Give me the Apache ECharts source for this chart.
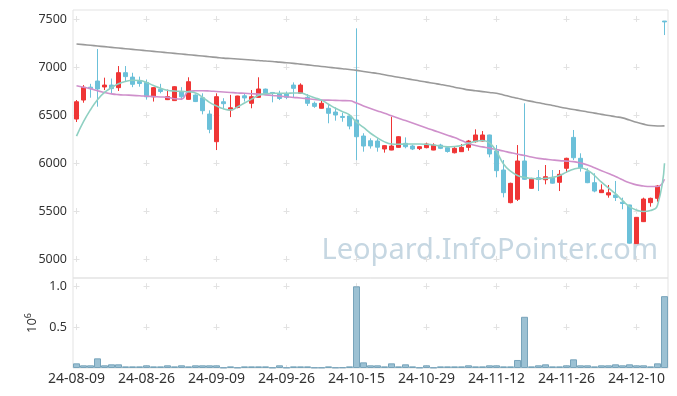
<!DOCTYPE html>
<html>
<head>
<meta charset="utf-8">
<script src="https://cdn.jsdelivr.net/npm/echarts@6/dist/echarts.min.js"></script>
<style>
html,body{margin:0;padding:0;background:#fff;}
#chart{width:677px;height:396px;}
</style>
</head>
<body>
<div id="chart"></div>
<script>
const dates = [
'24-08-09','24-08-12','24-08-13','24-08-14','24-08-16','24-08-19','24-08-20','24-08-21','24-08-22','24-08-23',
'24-08-26','24-08-27','24-08-28','24-08-29','24-08-30','24-09-02','24-09-03','24-09-04','24-09-05','24-09-06',
'24-09-09','24-09-10','24-09-11','24-09-12','24-09-13','24-09-19','24-09-20','24-09-23','24-09-24','24-09-25',
'24-09-26','24-09-27','24-09-30','24-10-02','24-10-04','24-10-07','24-10-08','24-10-10','24-10-11','24-10-14',
'24-10-15','24-10-16','24-10-17','24-10-18','24-10-21','24-10-22','24-10-23','24-10-24','24-10-25','24-10-28',
'24-10-29','24-10-30','24-10-31','24-11-01','24-11-04','24-11-05','24-11-06','24-11-07','24-11-08','24-11-11',
'24-11-12','24-11-13','24-11-14','24-11-15','24-11-18','24-11-19','24-11-20','24-11-21','24-11-22','24-11-25',
'24-11-26','24-11-27','24-11-28','24-11-29','24-12-02','24-12-03','24-12-04','24-12-05','24-12-06','24-12-09',
'24-12-10','24-12-11','24-12-12','24-12-13','24-12-16'];

const opens = [6458,6656,6790,6854,6792,6812,6785,6941,6895,6850,
6840,6690,6768,6660,6650,6745,6663,6708,6680,6510,
6222,6638,6552,6578,6700,6622,6684,6770,6735,6720,
6720,6812,6726,6684,6622,6570,6570,6531,6485,6490,
6448,6281,6232,6229,6146,6135,6163,6205,6177,6150,
6160,6135,6187,6160,6107,6118,6163,6222,6229,6292,
6125,5927,5587,5622,6021,5736,5847,5826,5847,5799,
5945,6267,6049,5910,5795,5691,5667,5667,5592,5563,
5160,5389,5587,5632,7479];
const closes = [6638,6789,6775,6771,6812,6775,6941,6900,6820,6828,
6690,6785,6745,6692,6795,6690,6847,6640,6545,6351,
6691,6618,6575,6698,6678,6691,6771,6720,6725,6672,
6685,6778,6812,6622,6590,6622,6518,6500,6475,6385,
6274,6177,6178,6165,6181,6177,6274,6170,6146,6170,
6198,6187,6153,6120,6153,6163,6229,6292,6292,6094,
5920,5691,5788,6021,5830,5830,5828,5857,5790,5882,
6049,6055,5951,5795,5708,5719,5690,5640,5578,5165,
5434,5625,5632,5760,7470];
const lows = [6427,6628,6680,6587,6760,6726,6750,6847,6790,6795,
6660,6640,6726,6656,6648,6656,6660,6635,6507,6310,
6135,6560,6478,6570,6640,6570,6680,6715,6632,6656,
6665,6684,6722,6594,6575,6568,6414,6441,6430,6351,
6030,6118,6150,6118,6108,6133,6160,6153,6135,6135,
6153,6133,6145,6108,6100,6115,6128,6212,6225,6059,
5851,5642,5580,5604,5825,5733,5708,5778,5785,5708,
5899,6031,5910,5790,5695,5688,5639,5604,5518,5160,
5155,5385,5545,5597,7333];
const highs = [6656,6812,6825,7187,6889,6880,7010,7010,6940,6900,
6870,6790,6825,6765,6800,6790,6893,6715,6726,6549,
6726,6675,6710,6700,6720,6760,6893,6775,6740,6753,
6745,6840,6830,6719,6640,6656,6604,6580,6525,6510,
7403,6310,6257,6257,6187,6483,6280,6267,6190,6175,
6212,6205,6200,6170,6165,6198,6240,6351,6333,6295,
6187,6031,5795,6187,6622,5845,5927,5979,5927,5927,
6055,6344,6101,5945,5893,5778,5771,5813,5639,5565,
5436,5639,5639,5771,7479];
const volumes = [57000,33000,33000,118000,33000,45000,45000,20000,20000,20000,
33000,20000,20000,33000,20000,33000,20000,33000,33000,33000,
33000,6000,20000,6000,20000,20000,20000,20000,6000,33000,
6000,20000,20000,20000,6000,6000,20000,6000,8000,20000,
998000,69000,33000,33000,20000,57000,20000,45000,20000,6000,
33000,6000,20000,20000,20000,20000,33000,20000,20000,33000,
33000,20000,20000,98000,626000,20000,33000,45000,20000,20000,
33000,106000,33000,33000,20000,33000,33000,45000,33000,45000,
33000,33000,20000,57000,878000];
const ma5 = [6280,6430,6555,6660,6735,6785,6825,6850,6862,6860,
6838,6808,6780,6758,6750,6746,6742,6730,6685,6632,
6595,6565,6552,6585,6625,6665,6705,6722,6727,6727,
6726,6730,6730,6705,6680,6655,6612,6570,6535,6500,
6425,6370,6310,6262,6220,6198,6195,6198,6198,6198,
6195,6188,6175,6170,6172,6182,6205,6225,6235,6210,
6120,5990,5915,5870,5850,5840,5835,5840,5850,5870,
5905,5935,5948,5925,5870,5800,5740,5680,5610,5545,
5510,5495,5505,5560,5997];
const ma20 = [6805,6790,6775,6752,6735,6720,6712,6708,6705,6700,
6696,6692,6688,6684,6670,6665,6745,6752,6753,6750,
6745,6740,6735,6730,6726,6722,6718,6710,6703,6697,
6690,6683,6678,6670,6662,6656,6655,6652,6650,6648,
6625,6595,6568,6543,6518,6492,6467,6442,6416,6390,
6364,6340,6315,6290,6265,6235,6205,6182,6168,6155,
6140,6125,6108,6092,6078,6062,6048,6040,6032,6025,
6020,6014,6000,5980,5950,5920,5890,5860,5825,5795,
5772,5760,5755,5755,5830];
const ma60 = [7240,7233,7226,7219,7212,7205,7198,7191,7184,7177,
7170,7163,7156,7149,7142,7135,7128,7121,7114,7107,
7100,7093,7088,7083,7078,7073,7068,7062,7057,7051,
7045,7038,7030,7022,7014,7006,6998,6990,6982,6974,
6965,6954,6943,6932,6919,6906,6893,6880,6868,6855,
6843,6830,6818,6805,6790,6776,6762,6753,6744,6735,
6726,6709,6691,6674,6656,6642,6628,6613,6599,6584,
6570,6557,6545,6532,6520,6507,6495,6482,6470,6447,
6424,6405,6390,6385,6387];

const kData = dates.map((d, i) => [opens[i], closes[i], lows[i], highs[i]]);

const FONT = '"Noto Sans", "DejaVu Sans", sans-serif';
const crossColor = '#e2e2e2';
const RED = '#ef3535';
const BLUE = '#6bc0d9';

const chart = echarts.init(document.getElementById('chart'), null, {renderer: 'canvas'});
chart.setOption({
  animation: false,
  backgroundColor: '#fff',
  graphic: [{
    type: 'text',
    z: 0,
    style: {
      x: 658, y: 251,
      text: 'Leopard.InfoPointer.com',
      font: '29px "Noto Sans", sans-serif',
      fill: '#c6d7e2',
      textAlign: 'right',
      textVerticalAlign: 'middle'
    }
  }],
  grid: [
    {left: 73, top: 10, width: 595, height: 268, show: true, borderColor: '#e3e3e3', borderWidth: 1, backgroundColor: 'transparent'},
    {left: 73, top: 278, width: 595, height: 90, show: true, borderColor: '#e3e3e3', borderWidth: 1, backgroundColor: 'transparent'}
  ],
  xAxis: [
    {
      type: 'category', gridIndex: 0, data: dates, boundaryGap: true,
      axisLine: {show: false}, axisTick: {show: false}, axisLabel: {show: false},
      splitLine: {show: true, interval: 9, alignWithLabel: true,
        lineStyle: {color: crossColor, width: 1, type: [6, 42], dashOffset: 42}}
    },
    {
      type: 'category', gridIndex: 1, data: dates, boundaryGap: true,
      axisLine: {show: false}, axisTick: {show: false},
      axisLabel: {show: true, interval: 9, fontSize: 14, color: '#333', fontFamily: FONT, margin: 4},
      splitLine: {show: true, interval: 9, alignWithLabel: true,
        lineStyle: {color: crossColor, width: 1, type: [6, 34.91], dashOffset: 35.73}}
    }
  ],
  yAxis: [
    {
      type: 'value', gridIndex: 0, min: 4802, max: 7594, scale: true,
      axisLine: {show: false}, axisTick: {show: false},
      axisLabel: {fontSize: 12.5, color: '#333', fontFamily: FONT, margin: 6, showMinLabel: false, showMaxLabel: false,
        formatter: v => String(v)},
      splitLine: {show: true, showMinLine: false, showMaxLine: false,
        lineStyle: {color: crossColor, width: 1, type: [6, 64], dashOffset: 69.5}}
    },
    {
      type: 'value', gridIndex: 1, min: 0, max: 1100000, interval: 500000,
      axisLine: {show: false}, axisTick: {show: false},
      axisLabel: {fontSize: 12.5, color: '#333', fontFamily: FONT, margin: 6, showMinLabel: false, showMaxLabel: false,
        formatter: v => (v / 1e6).toFixed(1)},
      splitLine: {show: true, showMinLine: false, showMaxLine: false,
        lineStyle: {color: crossColor, width: 1, type: [6, 64], dashOffset: 69.5}},
      name: '10{s|6}', nameLocation: 'middle', nameRotate: 90, nameGap: 31,
      nameTextStyle: {fontSize: 13, color: '#333', fontFamily: FONT,
        rich: {s: {fontSize: 9, color: '#333', fontFamily: FONT, padding: [0, 0, 7, 0]}}}
    }
  ],
  series: [
    {
      type: 'candlestick', name: 'K', xAxisIndex: 0, yAxisIndex: 0, data: kData, barWidth: 4.5, z: 3,
      itemStyle: {color: RED, color0: BLUE, borderColor: RED, borderColor0: BLUE, borderWidth: 1}
    },
    {type: 'line', name: 'MA60', xAxisIndex: 0, yAxisIndex: 0, data: ma60, smooth: true, showSymbol: false, symbol: 'none', z: 4,
      lineStyle: {color: '#9a9a9a', width: 1.6}},
    {type: 'line', name: 'MA20', xAxisIndex: 0, yAxisIndex: 0, data: ma20, smooth: true, showSymbol: false, symbol: 'none', z: 4,
      lineStyle: {color: '#cf90cb', width: 1.6}},
    {type: 'line', name: 'MA5', xAxisIndex: 0, yAxisIndex: 0, data: ma5, smooth: true, showSymbol: false, symbol: 'none', z: 4,
      lineStyle: {color: '#8fd0c2', width: 1.6}},
    {
      type: 'bar', name: 'Volume', xAxisIndex: 1, yAxisIndex: 1, data: volumes, barCategoryGap: '0%',
      itemStyle: {color: '#9cc1d3', borderColor: '#78a4bb', borderWidth: 1}
    }
  ]
});
</script>
</body>
</html>
